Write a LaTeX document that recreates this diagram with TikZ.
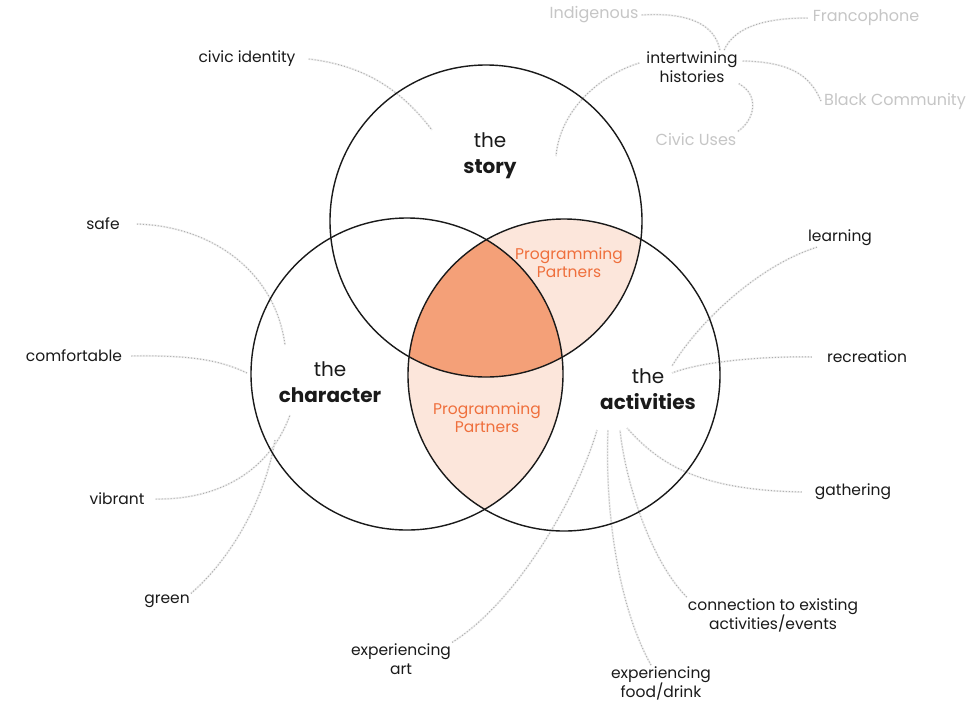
\documentclass[tikz,border=0pt]{standalone}
\usepackage{fontspec}
\setmainfont{Poppins}
\definecolor{ink}{HTML}{1A1A1A}
\definecolor{lightpeach}{HTML}{FCE6DB}
\definecolor{darkpeach}{HTML}{F4A078}
\definecolor{orangetext}{HTML}{EF6F3C}
\definecolor{faintlabel}{HTML}{C6C6C6}
\definecolor{linegray}{HTML}{ADADAD}
\definecolor{linefaint}{HTML}{EFEFEF}
\begin{document}
\begin{tikzpicture}[x=1pt,y=-1pt,
  lbl/.style={font=\fontsize{15.5}{19}\selectfont, text=ink, align=center, inner sep=1pt},
  flbl/.style={lbl, font=\fontsize{16}{19}\selectfont, text=faintlabel},
  ttl/.style={font=\fontsize{20}{26}\selectfont, text=ink, align=center},
  pp/.style={font=\fontsize{15.5}{18}\selectfont, text=orangetext, align=center},
  conn/.style={draw=linegray, dotted, line width=1pt, preaction={draw=linefaint, solid, line width=1.8pt}},
  ring/.style={draw=ink, line width=1.4pt}]
\useasboundingbox (0,0) rectangle (974,702);
\fill[white] (0,0) rectangle (974,702);
\coordinate (cS) at (486,221);
\coordinate (cC) at (407,374);
\coordinate (cA) at (564,375);
% fills
\begin{scope}
  \clip (cA) circle[radius=156pt];
  \fill[lightpeach] (cS) circle[radius=156pt];
  \fill[lightpeach] (cC) circle[radius=156pt];
\end{scope}
\begin{scope}
  \clip (cA) circle[radius=156pt];
  \clip (cS) circle[radius=156pt];
  \fill[darkpeach] (cC) circle[radius=156pt];
\end{scope}
% labels
\node[lbl] (civic) at (247,59) {civic identity};
\node[lbl] (hist) at (692,67) {intertwining\\histories};
\node[flbl] (indig) at (594,15) {Indigenous};
\node[flbl] (franco) at (866,18) {Francophone};
\node[flbl] (black) at (895,101) {Black Community};
\node[flbl] (uses) at (696,139) {Civic Uses};
\node[lbl] (safe) at (103,224) {safe};
\node[lbl] (comf) at (74,356) {comfortable};
\node[lbl] (vib) at (117,499) {vibrant};
\node[lbl] (green) at (167,601) {green};
\node[lbl] (learn) at (840,238) {learning};
\node[lbl] (recr) at (867,357) {recreation};
\node[lbl] (gath) at (853,492) {gathering};
\node[lbl] (connx) at (773,615) {connection to existing\\activities/events};
\node[lbl] (food) at (661,683) {experiencing\\food/drink};
\node[lbl] (art) at (401,659) {experiencing\\art};
% free ends
\coordinate (eCivic) at (432,130);
\coordinate (eHist) at (556,156);
\coordinate (eSafe) at (285,345);
\coordinate (eComf) at (247,373);
\coordinate (eVib) at (290,415);
\coordinate (eGreen) at (275,440);
\coordinate (eLearn) at (672,366);
\coordinate (eRecr) at (672,373);
\coordinate (eGath) at (627,428);
\coordinate (eConnx) at (620,430);
\coordinate (eFood) at (608,430);
\coordinate (eArt) at (597,430);
% connectors
\draw[conn] ([xshift=12pt]civic.east) .. controls (370,66) and (405,95) .. (eCivic);
\draw[conn] ([xshift=-6pt,yshift=4pt]hist.west) .. controls (600,75) and (560,110) .. (eHist);
\draw[conn] ([xshift=2pt]indig.east) .. controls (690,12) and (715,25) .. ([xshift=28pt]hist.north);
\draw[conn] ([xshift=-4pt]franco.west) .. controls (770,18) and (735,25) .. ([xshift=32pt]hist.north);
\draw[conn] ([xshift=4pt,yshift=6pt]hist.east) .. controls (790,62) and (810,75) .. ([xshift=-2pt]black.west);
\draw[conn] (hist.south east) .. controls (760,95) and (755,120) .. (uses.north east);
\draw[conn] ([xshift=16pt]safe.east) .. controls (210,226) and (275,270) .. (eSafe);
\draw[conn] ([xshift=8pt]comf.east) .. controls (190,355) and (220,360) .. (eComf);
\draw[conn] ([xshift=10pt]vib.east) .. controls (220,500) and (270,470) .. (eVib);
\draw[conn] (green.north east) .. controls (230,560) and (265,500) .. (eGreen);
\draw[conn] ([xshift=10pt]learn.south west) .. controls (760,265) and (700,320) .. (eLearn);
\draw[conn] ([xshift=-14pt]recr.west) .. controls (760,356) and (700,362) .. (eRecr);
\draw[conn] ([xshift=-12pt]gath.west) .. controls (700,490) and (660,465) .. (eGath);
\draw[conn] (connx.north west) .. controls (650,560) and (625,480) .. (eConnx);
\draw[conn] ([xshift=-10pt]food.north) .. controls (615,600) and (605,500) .. (eFood);
\draw[conn] (art.north east) .. controls (520,600) and (580,490) .. (eArt);
% circles
\draw[ring] (cS) circle[radius=156pt];
\draw[ring] (cC) circle[radius=156pt];
\draw[ring] (cA) circle[radius=156pt];
% titles
\node[ttl] (tStory) at (490,156) {the\\\textbf{story}};
\node[ttl] (tChar) at (330,382) {the\\\textbf{character}};
\node[ttl] (tAct) at (648,389) {the\\\textbf{activities}};
\node[pp] (pp1) at (569,263) {Programming\\Partners};
\node[pp] (pp2) at (487,418) {Programming\\Partners};
\end{tikzpicture}
\end{document}
